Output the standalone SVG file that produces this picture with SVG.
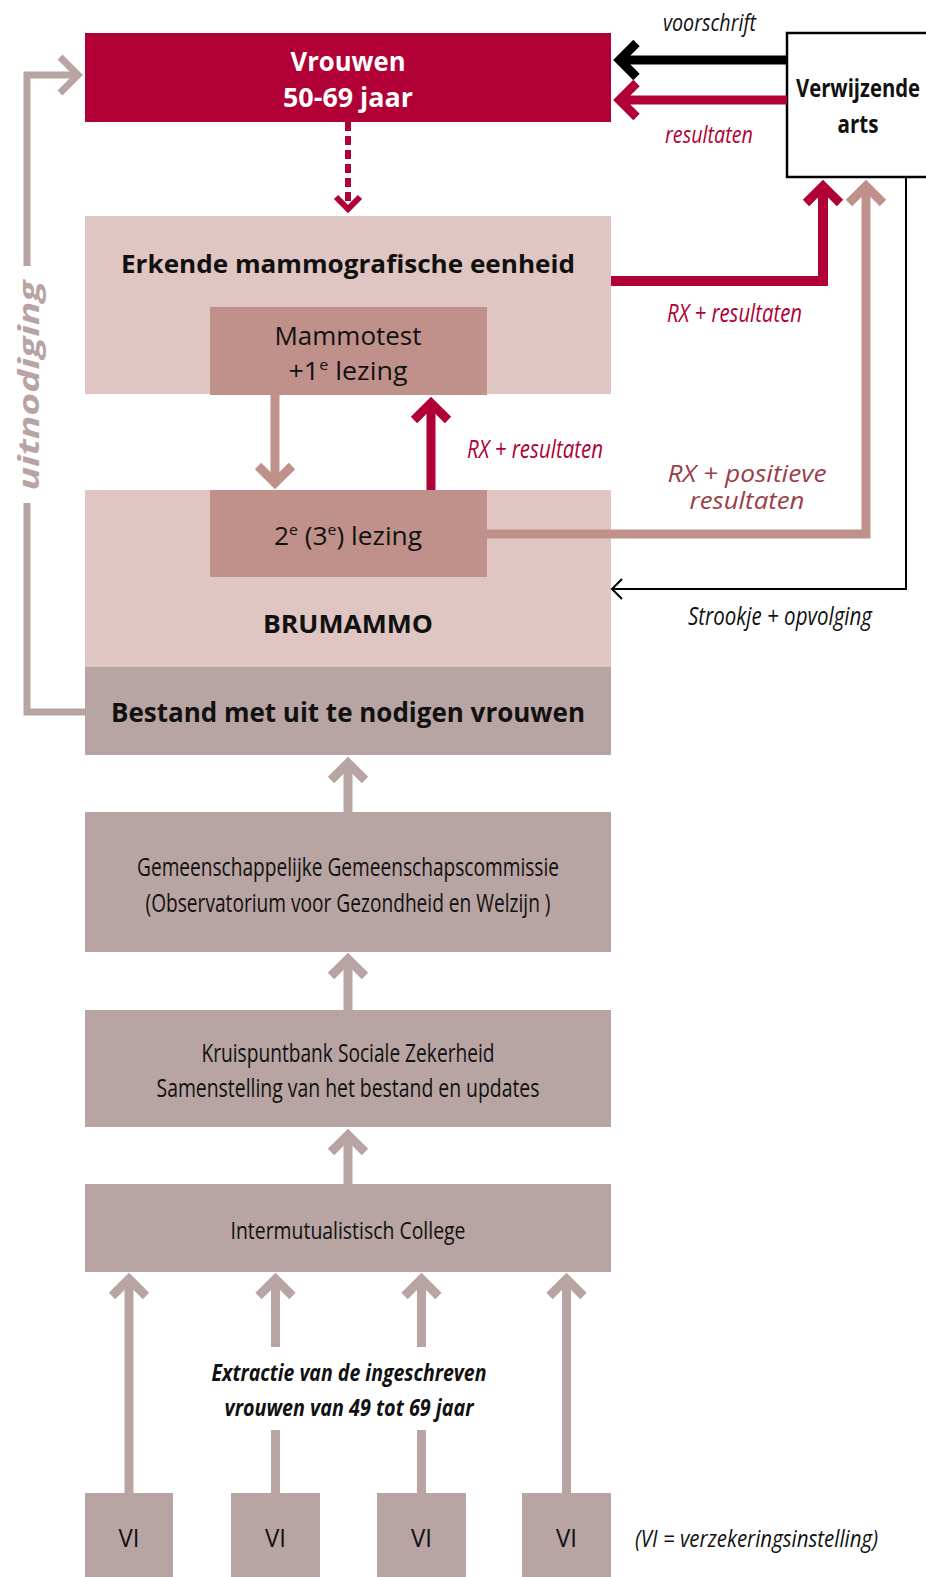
<svg xmlns="http://www.w3.org/2000/svg" width="926" height="1577" viewBox="0 0 926 1577">
<style>
  text{font-family:"Open Sans","Liberation Sans",sans-serif;}
  .b{font-weight:700}
  .r{font-weight:400}
  .i{font-style:italic}
  .mid{text-anchor:middle}
  .dk{fill:#111}
  .wh{fill:#fff}
  .crim{fill:#b00035}
  .ros{fill:#9a3f4a}
  .c-crimson{fill:#b00035}
  .c-light{fill:#dfc6c2}
  .c-rosy{fill:#c0918a}
  .c-grey{fill:#b8a4a2}
  .ln{fill:none;stroke-linejoin:miter;stroke-linecap:butt}
</style>
<defs>
  <marker id="ah-crimson" markerUnits="userSpaceOnUse" viewBox="-30 -30 60 60" markerWidth="60" markerHeight="60" refX="0" refY="0" orient="auto" overflow="visible">
    <path d="M-17,-17 L0,0 L-17,17" fill="none" stroke="#b00035" stroke-width="9" stroke-linejoin="miter"/>
  </marker>
  <marker id="ah-black" markerUnits="userSpaceOnUse" viewBox="-30 -30 60 60" markerWidth="60" markerHeight="60" refX="0" refY="0" orient="auto" overflow="visible">
    <path d="M-17,-17 L0,0 L-17,17" fill="none" stroke="#000" stroke-width="9" stroke-linejoin="miter"/>
  </marker>
  <marker id="ah-rosy" markerUnits="userSpaceOnUse" viewBox="-30 -30 60 60" markerWidth="60" markerHeight="60" refX="0" refY="0" orient="auto" overflow="visible">
    <path d="M-17,-17 L0,0 L-17,17" fill="none" stroke="#c0918a" stroke-width="9" stroke-linejoin="miter"/>
  </marker>
  <marker id="ah-grey" markerUnits="userSpaceOnUse" viewBox="-30 -30 60 60" markerWidth="60" markerHeight="60" refX="0" refY="0" orient="auto" overflow="visible">
    <path d="M-17,-17 L0,0 L-17,17" fill="none" stroke="#b8a4a2" stroke-width="9" stroke-linejoin="miter"/>
  </marker>
  <marker id="ah-grey-s" markerUnits="userSpaceOnUse" viewBox="-30 -30 60 60" markerWidth="60" markerHeight="60" refX="0" refY="0" orient="auto" overflow="visible">
    <path d="M-18,-18 L0,0 L-18,18" fill="none" stroke="#b8a4a2" stroke-width="7" stroke-linejoin="miter"/>
  </marker>
  <marker id="ah-crimson-s" markerUnits="userSpaceOnUse" viewBox="-30 -30 60 60" markerWidth="60" markerHeight="60" refX="0" refY="0" orient="auto" overflow="visible">
    <path d="M-12,-12 L0,0 L-12,12" fill="none" stroke="#b00035" stroke-width="6" stroke-linejoin="miter"/>
  </marker>
  <marker id="ah-thin" markerUnits="userSpaceOnUse" viewBox="-30 -30 60 60" markerWidth="60" markerHeight="60" refX="0" refY="0" orient="auto" overflow="visible">
    <path d="M-10,-10 L0,0 L-10,10" fill="none" stroke="#000" stroke-width="2"/>
  </marker>
</defs>

<rect width="926" height="1577" fill="#fff"/>

<g id="node-vrouwen">
  <rect x="85" y="33" width="526" height="89" class="c-crimson"/>
  <text x="348" y="71" class="b wh mid" font-size="26" textLength="115" lengthAdjust="spacingAndGlyphs">Vrouwen</text>
  <text x="348" y="107" class="b wh mid" font-size="26" textLength="130" lengthAdjust="spacingAndGlyphs">50-69 jaar</text>
</g>

<g id="node-arts">
  <rect x="787" y="33" width="160" height="144" fill="#fff" stroke="#000" stroke-width="2.5"/>
  <text x="858" y="97" class="b dk mid" font-size="25" textLength="124" lengthAdjust="spacingAndGlyphs">Verwijzende</text>
  <text x="858" y="133" class="b dk mid" font-size="25" textLength="41" lengthAdjust="spacingAndGlyphs">arts</text>
</g>

<g id="node-erkende">
  <rect x="85" y="216" width="526" height="178" class="c-light"/>
  <text x="348" y="273" class="b dk mid" font-size="25" textLength="454" lengthAdjust="spacingAndGlyphs">Erkende mammografische eenheid</text>
</g>

<g id="node-brumammo">
  <rect x="85" y="490" width="526" height="177" class="c-light"/>
  <text x="348" y="633" class="b dk mid" font-size="25" textLength="170" lengthAdjust="spacingAndGlyphs">BRUMAMMO</text>
</g>

<g id="node-mammotest">
  <rect x="210" y="307" width="277" height="88" class="c-rosy"/>
  <text x="348" y="345" class="r dk mid" font-size="25" textLength="147" lengthAdjust="spacingAndGlyphs">Mammotest</text>
  <text x="348" y="380" class="r dk mid" font-size="25" textLength="119" lengthAdjust="spacingAndGlyphs">+1<tspan font-size="15" dy="-10">e</tspan><tspan dy="10"> lezing</tspan></text>
</g>

<g id="node-lezing2">
  <rect x="210" y="490" width="277" height="87" class="c-rosy"/>
  <text x="348" y="545" class="r dk mid" font-size="25" textLength="148" lengthAdjust="spacingAndGlyphs">2<tspan font-size="15" dy="-10">e</tspan><tspan dy="10"> (3</tspan><tspan font-size="15" dy="-10">e</tspan><tspan dy="10">) lezing</tspan></text>
</g>

<g id="node-bestand">
  <rect x="85" y="667" width="526" height="88" class="c-grey"/>
  <text x="348" y="722" class="b dk mid" font-size="26" textLength="474" lengthAdjust="spacingAndGlyphs">Bestand met uit te nodigen vrouwen</text>
</g>

<g id="node-ggc">
  <rect x="85" y="812" width="526" height="140" class="c-grey"/>
  <text x="348" y="876" class="r dk mid" font-size="25" textLength="422" lengthAdjust="spacingAndGlyphs">Gemeenschappelijke Gemeenschapscommissie</text>
  <text x="348" y="912" class="r dk mid" font-size="25" textLength="405" lengthAdjust="spacingAndGlyphs">(Observatorium voor Gezondheid en Welzijn )</text>
</g>

<g id="node-ksz">
  <rect x="85" y="1010" width="526" height="117" class="c-grey"/>
  <text x="348" y="1062" class="r dk mid" font-size="25" textLength="293" lengthAdjust="spacingAndGlyphs">Kruispuntbank Sociale Zekerheid</text>
  <text x="348" y="1097" class="r dk mid" font-size="25" textLength="383" lengthAdjust="spacingAndGlyphs">Samenstelling van het bestand en updates</text>
</g>

<g id="node-imc">
  <rect x="85" y="1184" width="526" height="88" class="c-grey"/>
  <text x="348" y="1239" class="r dk mid" font-size="24" textLength="235" lengthAdjust="spacingAndGlyphs">Intermutualistisch College</text>
</g>

<g id="node-vi1">
  <rect x="85" y="1493" width="88" height="84" class="c-grey"/>
  <text x="129" y="1547" class="r dk mid" font-size="25" textLength="21" lengthAdjust="spacingAndGlyphs">VI</text>
</g>
<g id="node-vi2">
  <rect x="231" y="1493" width="89" height="84" class="c-grey"/>
  <text x="275.5" y="1547" class="r dk mid" font-size="25" textLength="21" lengthAdjust="spacingAndGlyphs">VI</text>
</g>
<g id="node-vi3">
  <rect x="377" y="1493" width="89" height="84" class="c-grey"/>
  <text x="421.5" y="1547" class="r dk mid" font-size="25" textLength="21" lengthAdjust="spacingAndGlyphs">VI</text>
</g>
<g id="node-vi4">
  <rect x="522" y="1493" width="89" height="84" class="c-grey"/>
  <text x="566.5" y="1547" class="r dk mid" font-size="25" textLength="21" lengthAdjust="spacingAndGlyphs">VI</text>
</g>

<g id="connectors">
  <path class="ln" d="M787,60 H619.5" stroke="#000" stroke-width="9" marker-end="url(#ah-black)"/>
  <path class="ln" d="M787,100 H619.5" stroke="#b00035" stroke-width="9" marker-end="url(#ah-crimson)"/>
  <path class="ln" d="M348,122 V209" stroke="#b00035" stroke-width="6" stroke-dasharray="9 5" marker-end="url(#ah-crimson-s)"/>
  <path class="ln" d="M611,281 H823 V186" stroke="#b00035" stroke-width="10" marker-end="url(#ah-crimson)"/>
  <path class="ln" d="M487,534 H866 V186" stroke="#c0918a" stroke-width="9" marker-end="url(#ah-rosy)"/>
  <path class="ln" d="M275,395 V483" stroke="#c0918a" stroke-width="9" marker-end="url(#ah-rosy)"/>
  <path class="ln" d="M431,490 V403" stroke="#b00035" stroke-width="9" marker-end="url(#ah-crimson)"/>
  <path class="ln" d="M906,177 V589 H612" stroke="#000" stroke-width="2" marker-end="url(#ah-thin)"/>
  <path class="ln" d="M85,712 H27 V503" stroke="#b8a4a2" stroke-width="7"/>
  <path class="ln" d="M27,266 V75 H78" stroke="#b8a4a2" stroke-width="7" marker-end="url(#ah-grey-s)"/>
  <path class="ln" d="M348,812 V763" stroke="#b8a4a2" stroke-width="9" marker-end="url(#ah-grey)"/>
  <path class="ln" d="M348,1010 V959" stroke="#b8a4a2" stroke-width="9" marker-end="url(#ah-grey)"/>
  <path class="ln" d="M348,1184 V1135" stroke="#b8a4a2" stroke-width="9" marker-end="url(#ah-grey)"/>
  <path class="ln" d="M129,1493 V1279" stroke="#b8a4a2" stroke-width="9" marker-end="url(#ah-grey)"/>
  <path class="ln" d="M275.5,1347 V1279" stroke="#b8a4a2" stroke-width="9" marker-end="url(#ah-grey)"/>
  <path class="ln" d="M275.5,1493 V1430" stroke="#b8a4a2" stroke-width="9"/>
  <path class="ln" d="M421.5,1347 V1279" stroke="#b8a4a2" stroke-width="9" marker-end="url(#ah-grey)"/>
  <path class="ln" d="M421.5,1493 V1430" stroke="#b8a4a2" stroke-width="9"/>
  <path class="ln" d="M566.5,1493 V1279" stroke="#b8a4a2" stroke-width="9" marker-end="url(#ah-grey)"/>

  <text x="663" y="31" class="r i dk" font-size="24" textLength="93" lengthAdjust="spacingAndGlyphs">voorschrift</text>
  <text x="665" y="143" class="r i crim" font-size="24" textLength="88" lengthAdjust="spacingAndGlyphs">resultaten</text>
  <text x="667" y="322" class="r i crim" font-size="25" textLength="135" lengthAdjust="spacingAndGlyphs">RX + resultaten</text>
  <text x="467" y="458" class="r i crim" font-size="25" textLength="136" lengthAdjust="spacingAndGlyphs">RX + resultaten</text>
  <text x="747" y="482" class="r i ros mid" font-size="23" textLength="159" lengthAdjust="spacingAndGlyphs">RX + positieve</text>
  <text x="747" y="509" class="r i ros mid" font-size="23" textLength="115" lengthAdjust="spacingAndGlyphs">resultaten</text>
  <text x="688" y="625" class="r i dk" font-size="25" textLength="184" lengthAdjust="spacingAndGlyphs">Strookje + opvolging</text>
  <text transform="translate(39,385.5) rotate(-90)" class="b i mid" fill="#b8a4a2" font-size="28" textLength="210" lengthAdjust="spacingAndGlyphs">uitnodiging</text>
  <text x="349" y="1381" class="b i dk mid" font-size="23" textLength="275" lengthAdjust="spacingAndGlyphs">Extractie van de ingeschreven</text>
  <text x="349" y="1416" class="b i dk mid" font-size="23" textLength="249" lengthAdjust="spacingAndGlyphs">vrouwen van 49 tot 69 jaar</text>
  <text x="635" y="1547" class="r i dk" font-size="23" textLength="243" lengthAdjust="spacingAndGlyphs">(VI = verzekeringsinstelling)</text>
</g>
</svg>
